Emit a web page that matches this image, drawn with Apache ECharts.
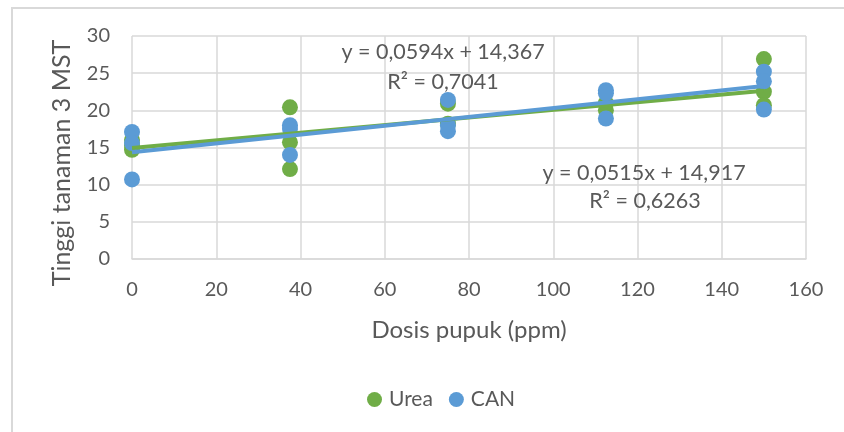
<!DOCTYPE html>
<html>
<head>
<meta charset="utf-8">
<script src="https://cdn.jsdelivr.net/npm/echarts@6/dist/echarts.min.js"></script>
<style>html,body{margin:0;padding:0;background:#fff;}#c{width:844px;height:432px;}</style>
</head>
<body>
<div id="c"></div>
<script>
// Data
var ureaPoints = [
  [0, 16.0], [0, 15.3], [0, 14.7],
  [37.5, 20.4], [37.5, 15.7], [37.5, 12.1],
  [75, 20.9], [75, 18.2],
  [112.5, 20.0], [112.5, 21.0],
  [150, 26.9], [150, 22.5], [150, 20.7]
];
var canPoints = [
  [0, 17.1], [0, 15.6], [0, 10.7],
  [37.5, 18.0], [37.5, 17.5], [37.5, 14.0],
  [75, 21.4], [75, 18.0], [75, 17.2],
  [112.5, 22.7], [112.5, 22.3], [112.5, 18.9],
  [150, 25.2], [150, 23.9], [150, 20.1]
];
var ureaTrend = [[0, 14.92], [150, 22.64]];
var canTrend = [[0, 14.37], [150, 23.28]];
var ureaEq = ['y = 0,0515x + 14,917', 'R² = 0,6263'];
var canEq = ['y = 0,0594x + 14,367', 'R² = 0,7041'];
var xTicks = { min: 0, max: 160, interval: 20 };
var yTicks = { min: 0, max: 30, interval: 5 };
var yTitle = 'Tinggi tanaman 3 MST';

var GREEN = '#70AD47', BLUE = '#5B9BD5', TXT = '#595959', GRID = '#d9d9d9';
var FONT = 'Lato';

var chart = echarts.init(document.getElementById('c'));
chart.setOption({
  backgroundColor: '#fff',
  animation: false,
  textStyle: { fontFamily: FONT, color: TXT },
  grid: { left: 132, right: 38, top: 36, bottom: 173, containLabel: false },
  xAxis: {
    type: 'value', min: xTicks.min, max: xTicks.max, interval: xTicks.interval,
    name: 'Dosis pupuk (ppm)', nameLocation: 'middle', nameGap: 59,
    nameTextStyle: { fontFamily: FONT, fontSize: 24, color: TXT },
    axisLine: { show: true, lineStyle: { color: GRID, width: 1.5 } },
    axisTick: { show: false },
    axisLabel: { fontFamily: FONT, fontSize: 20, color: TXT, margin: 21 },
    splitLine: { show: true, lineStyle: { color: GRID, width: 1.5 } }
  },
  yAxis: {
    type: 'value', min: yTicks.min, max: yTicks.max, interval: yTicks.interval,
    axisLine: { show: false },
    axisTick: { show: false },
    axisLabel: { fontFamily: FONT, fontSize: 20, color: TXT, margin: 22 },
    splitLine: { show: true, lineStyle: { color: GRID, width: 1.5 } }
  },
  legend: {
    bottom: 17, left: 362, itemGap: 16, itemWidth: 15, itemHeight: 15,
    icon: 'circle',
    textStyle: { fontFamily: FONT, fontSize: 21, color: TXT, padding: [0, 0, 0, 2] },
    data: ['Urea', 'CAN']
  },
  series: [
    { name: 'Urea', type: 'scatter', data: ureaPoints, symbolSize: 16, itemStyle: { color: GREEN, opacity: 1 }, z: 2 },
    { name: 'CAN', type: 'scatter', data: canPoints, symbolSize: 16, itemStyle: { color: BLUE, opacity: 1 }, z: 3 },
    { name: 'UreaTrend', type: 'line', data: ureaTrend, symbol: 'none', lineStyle: { color: GREEN, width: 4 }, z: 4 },
    { name: 'CANTrend', type: 'line', data: canTrend, symbol: 'none', lineStyle: { color: BLUE, width: 4 }, z: 5 }
  ],
  graphic: [
    { type: 'rect', shape: { x: 12, y: 8, width: 900, height: 500 }, style: { fill: 'none', stroke: GRID, lineWidth: 2 }, silent: true, z: -1 },
    { type: 'text', x: 62, y: 163, rotation: Math.PI / 2, style: { text: yTitle, fontFamily: FONT, fontSize: 25, fill: TXT, align: 'center', verticalAlign: 'middle' }, z: 10 },
    { type: 'text', x: 443, y: 52, style: { text: canEq[0], fontFamily: FONT, fontSize: 21.5, fill: TXT, align: 'center', verticalAlign: 'middle' }, z: 10 },
    { type: 'text', x: 443, y: 82, style: { text: canEq[1], fontFamily: FONT, fontSize: 21.5, fill: TXT, align: 'center', verticalAlign: 'middle' }, z: 10 },
    { type: 'text', x: 644, y: 173, style: { text: ureaEq[0], fontFamily: FONT, fontSize: 21.5, fill: TXT, align: 'center', verticalAlign: 'middle' }, z: 10 },
    { type: 'text', x: 645, y: 201, style: { text: ureaEq[1], fontFamily: FONT, fontSize: 21.5, fill: TXT, align: 'center', verticalAlign: 'middle' }, z: 10 }
  ]
});
</script>
</body>
</html>
